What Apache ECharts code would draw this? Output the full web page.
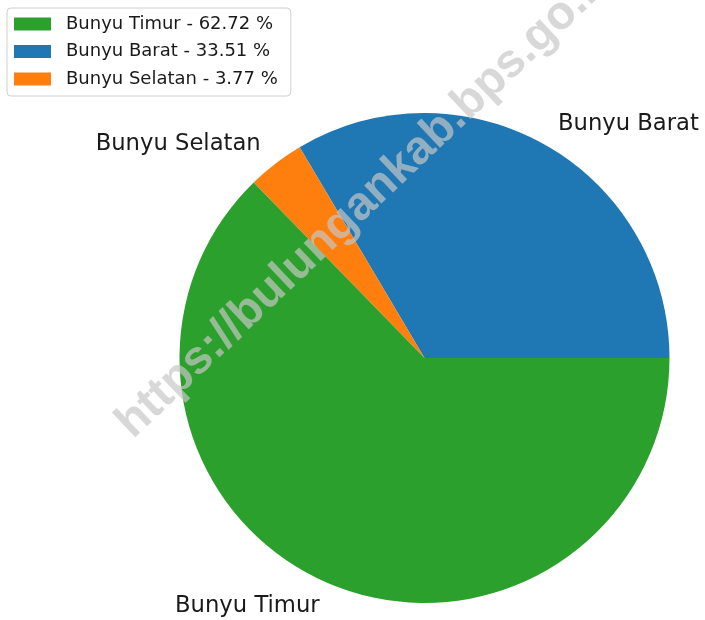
<!DOCTYPE html>
<html>
<head>
<meta charset="utf-8">
<script src="https://cdn.jsdelivr.net/npm/echarts@6/dist/echarts.min.js"></script>
<style>
  html, body { margin: 0; padding: 0; background: #fff; }
  #chart { width: 705px; height: 620px; }
</style>
</head>
<body>
<div id="chart"></div>
<script>
// pie order (counter-clockwise from 3 o'clock) and shares in %
const categories = ['Bunyu Barat', 'Bunyu Selatan', 'Bunyu Timur'];
const shares = [33.51, 3.77, 62.72];
const colors = ['#1f77b4', '#ff7f0e', '#2ca02c'];
// legend is listed largest first
const legendOrder = ['Bunyu Timur', 'Bunyu Barat', 'Bunyu Selatan'];

const font = 'DejaVu Sans';
const chart = echarts.init(document.getElementById('chart'));

const option = {
  backgroundColor: '#fff',
  animation: false,
  legend: {
    data: legendOrder,
    left: 7,
    top: 8,
    orient: 'vertical',
    padding: [7, 13, 8, 7],
    borderColor: '#d0d0d0',
    borderWidth: 1,
    borderRadius: 4,
    itemWidth: 37,
    itemHeight: 13,
    itemGap: 9.5,
    icon: 'rect',
    selectedMode: false,
    textStyle: { fontFamily: font, fontSize: 18, lineHeight: 18, color: '#1a1a1a', padding: [0, 0, 0, 10] },
    formatter: (name) => name + ' - ' + shares[categories.indexOf(name)].toFixed(2) + ' %'
  },
  series: [{
    type: 'pie',
    center: [424.5, 358],
    radius: 245,
    startAngle: 0,
    clockwise: false,
    avoidLabelOverlap: false,
    emphasis: { disabled: true },
    label: {
      show: true,
      position: 'outside',
      formatter: '{b}',
      fontFamily: font,
      fontSize: 22.7,
      color: '#1a1a1a',
      distanceToLabelLine: 0
    },
    labelLine: { show: false, length: 24.5, length2: 0 },
    data: categories.map((c, i) => ({ name: c, value: shares[i], itemStyle: { color: colors[i] } }))
  }],
  // site watermark over the plot
  graphic: [{
    type: 'text',
    x: 124,
    y: 430,
    rotation: 43.5 * Math.PI / 180,
    z: 100,
    silent: true,
    style: {
      text: 'https://bulungankab.bps.go.id',
      font: 'bold 47px "Liberation Sans", Arial, sans-serif',
      fill: 'rgba(198,198,198,0.69)',
      textAlign: 'left',
      textVerticalAlign: 'middle'
    }
  }]
};

chart.setOption(option);
</script>
</body>
</html>
